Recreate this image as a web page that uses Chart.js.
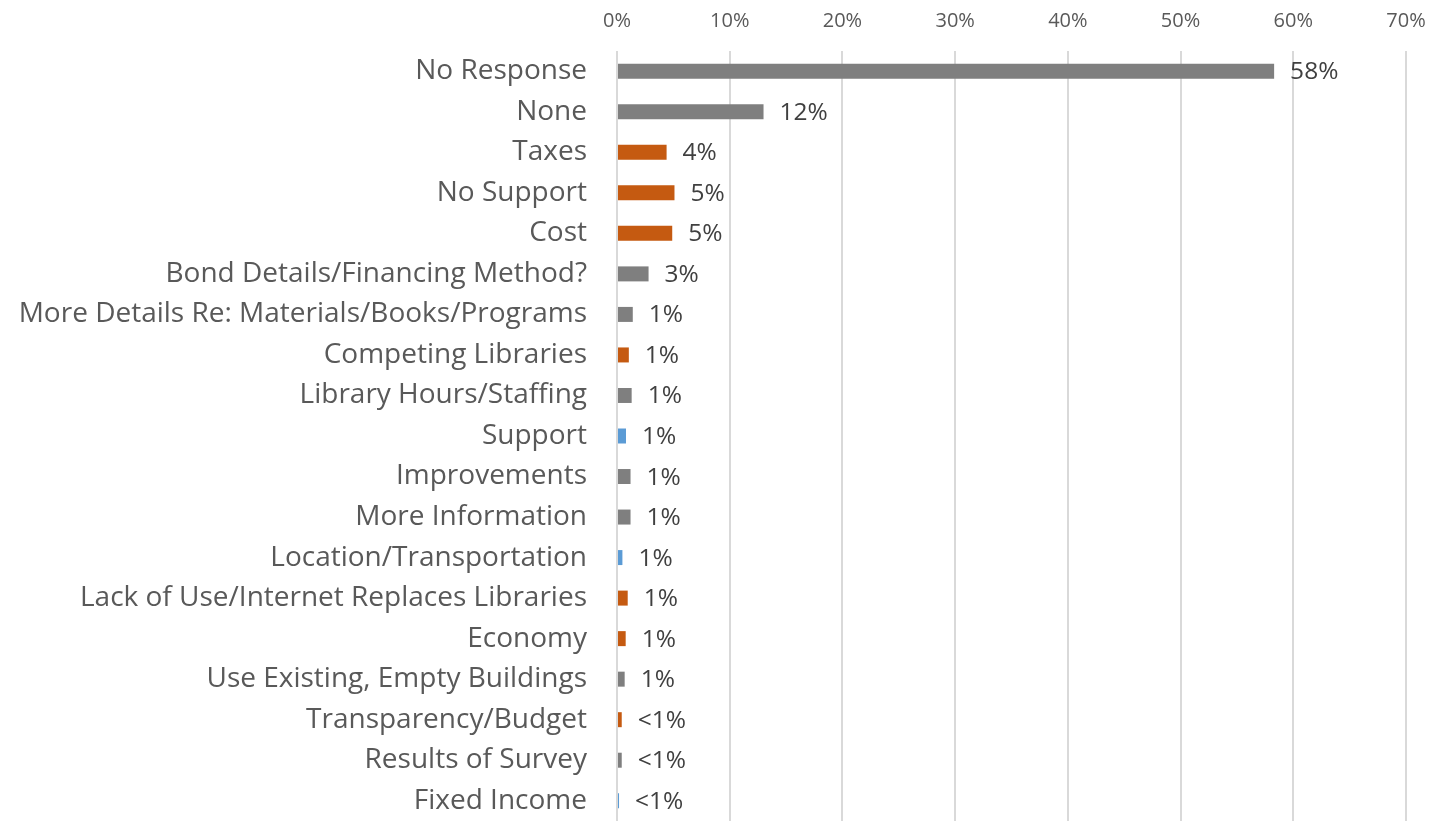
<!DOCTYPE html>
<html>
<head>
<meta charset="utf-8">
<script src="https://cdn.jsdelivr.net/npm/chart.js@4"></script>
<style>
  html, body { margin: 0; padding: 0; background: #fff; overflow: hidden; }
  canvas { display: block; }
</style>
</head>
<body>
<canvas id="concernsChart" width="1431" height="821"></canvas>
<script>
const categories = [
  'No Response', 'None', 'Taxes', 'No Support', 'Cost',
  'Bond Details/Financing Method?', 'More Details Re: Materials/Books/Programs',
  'Competing Libraries', 'Library Hours/Staffing', 'Support', 'Improvements',
  'More Information', 'Location/Transportation', 'Lack of Use/Internet Replaces Libraries',
  'Economy', 'Use Existing, Empty Buildings', 'Transparency/Budget',
  'Results of Survey', 'Fixed Income'
];
const shares = [58.3, 13.0, 4.4, 5.1, 4.9, 2.8, 1.4, 1.05, 1.3, 0.8, 1.2, 1.2, 0.48, 0.95, 0.77, 0.68, 0.42, 0.42, 0.18];
const shareLabels = ['58%', '12%', '4%', '5%', '5%', '3%', '1%', '1%', '1%', '1%', '1%', '1%', '1%', '1%', '1%', '1%', '<1%', '<1%', '<1%'];
const groups = ['neutral', 'neutral', 'negative', 'negative', 'negative', 'neutral', 'neutral',
  'negative', 'neutral', 'positive', 'neutral', 'neutral', 'positive', 'negative',
  'negative', 'neutral', 'negative', 'neutral', 'positive'];
const xTicks = [0, 10, 20, 30, 40, 50, 60, 70];

const groupColors = { neutral: '#7f7f7f', negative: '#c55a11', positive: '#5b9bd5' };

// draws the value text just right of each bar end
const barValueLabels = {
  id: 'barValueLabels',
  afterDatasetsDraw(chart) {
    const ctx = chart.ctx;
    const meta = chart.getDatasetMeta(0);
    ctx.save();
    ctx.font = '24.5px "Open Sans"';
    ctx.fillStyle = '#404040';
    ctx.textAlign = 'left';
    ctx.textBaseline = 'middle';
    meta.data.forEach((bar, i) => {
      ctx.fillText(shareLabels[i], bar.x + 16, bar.y + 1);
    });
    ctx.restore();
  }
};

document.addEventListener("DOMContentLoaded", () => {
  const ctx = document.getElementById('concernsChart').getContext('2d');
  new Chart(ctx, {
    type: 'bar',
    data: {
      labels: categories,
      datasets: [{
        data: shares,
        backgroundColor: groups.map(g => groupColors[g]),
        barPercentage: 0.37,
        categoryPercentage: 1
      }]
    },
    plugins: [barValueLabels],
    options: {
      indexAxis: 'y',
      responsive: false,
      animation: false,
      layout: { padding: { top: 8, right: 25, left: 0, bottom: 0 } },
      plugins: {
        legend: { display: false },
        tooltip: { enabled: false }
      },
      scales: {
        x: {
          position: 'top',
          min: 0,
          max: 70,
          afterBuildTicks: (scale) => { scale.ticks = xTicks.map(v => ({ value: v })); },
          afterFit: (scale) => {
            scale.height = 43;
            scale.paddingLeft = 0;
            scale.paddingRight = 0;
          },
          ticks: {
            callback: (v) => v + '%',
            color: '#595959',
            font: { family: 'Open Sans', size: 20, lineHeight: 1 },
            padding: 20
          },
          grid: { color: '#d9d9d9', lineWidth: 2, drawTicks: false },
          border: { display: false }
        },
        y: {
          afterFit: (scale) => {
            scale.width = 617;
            scale.paddingTop = 0;
            scale.paddingBottom = 0;
          },
          ticks: {
            color: '#595959',
            font: { family: 'Open Sans', size: 28 },
            padding: 30,
            autoSkip: false
          },
          grid: { display: false, drawTicks: false },
          border: { display: false }
        }
      }
    }
  });
});
</script>
</body>
</html>
